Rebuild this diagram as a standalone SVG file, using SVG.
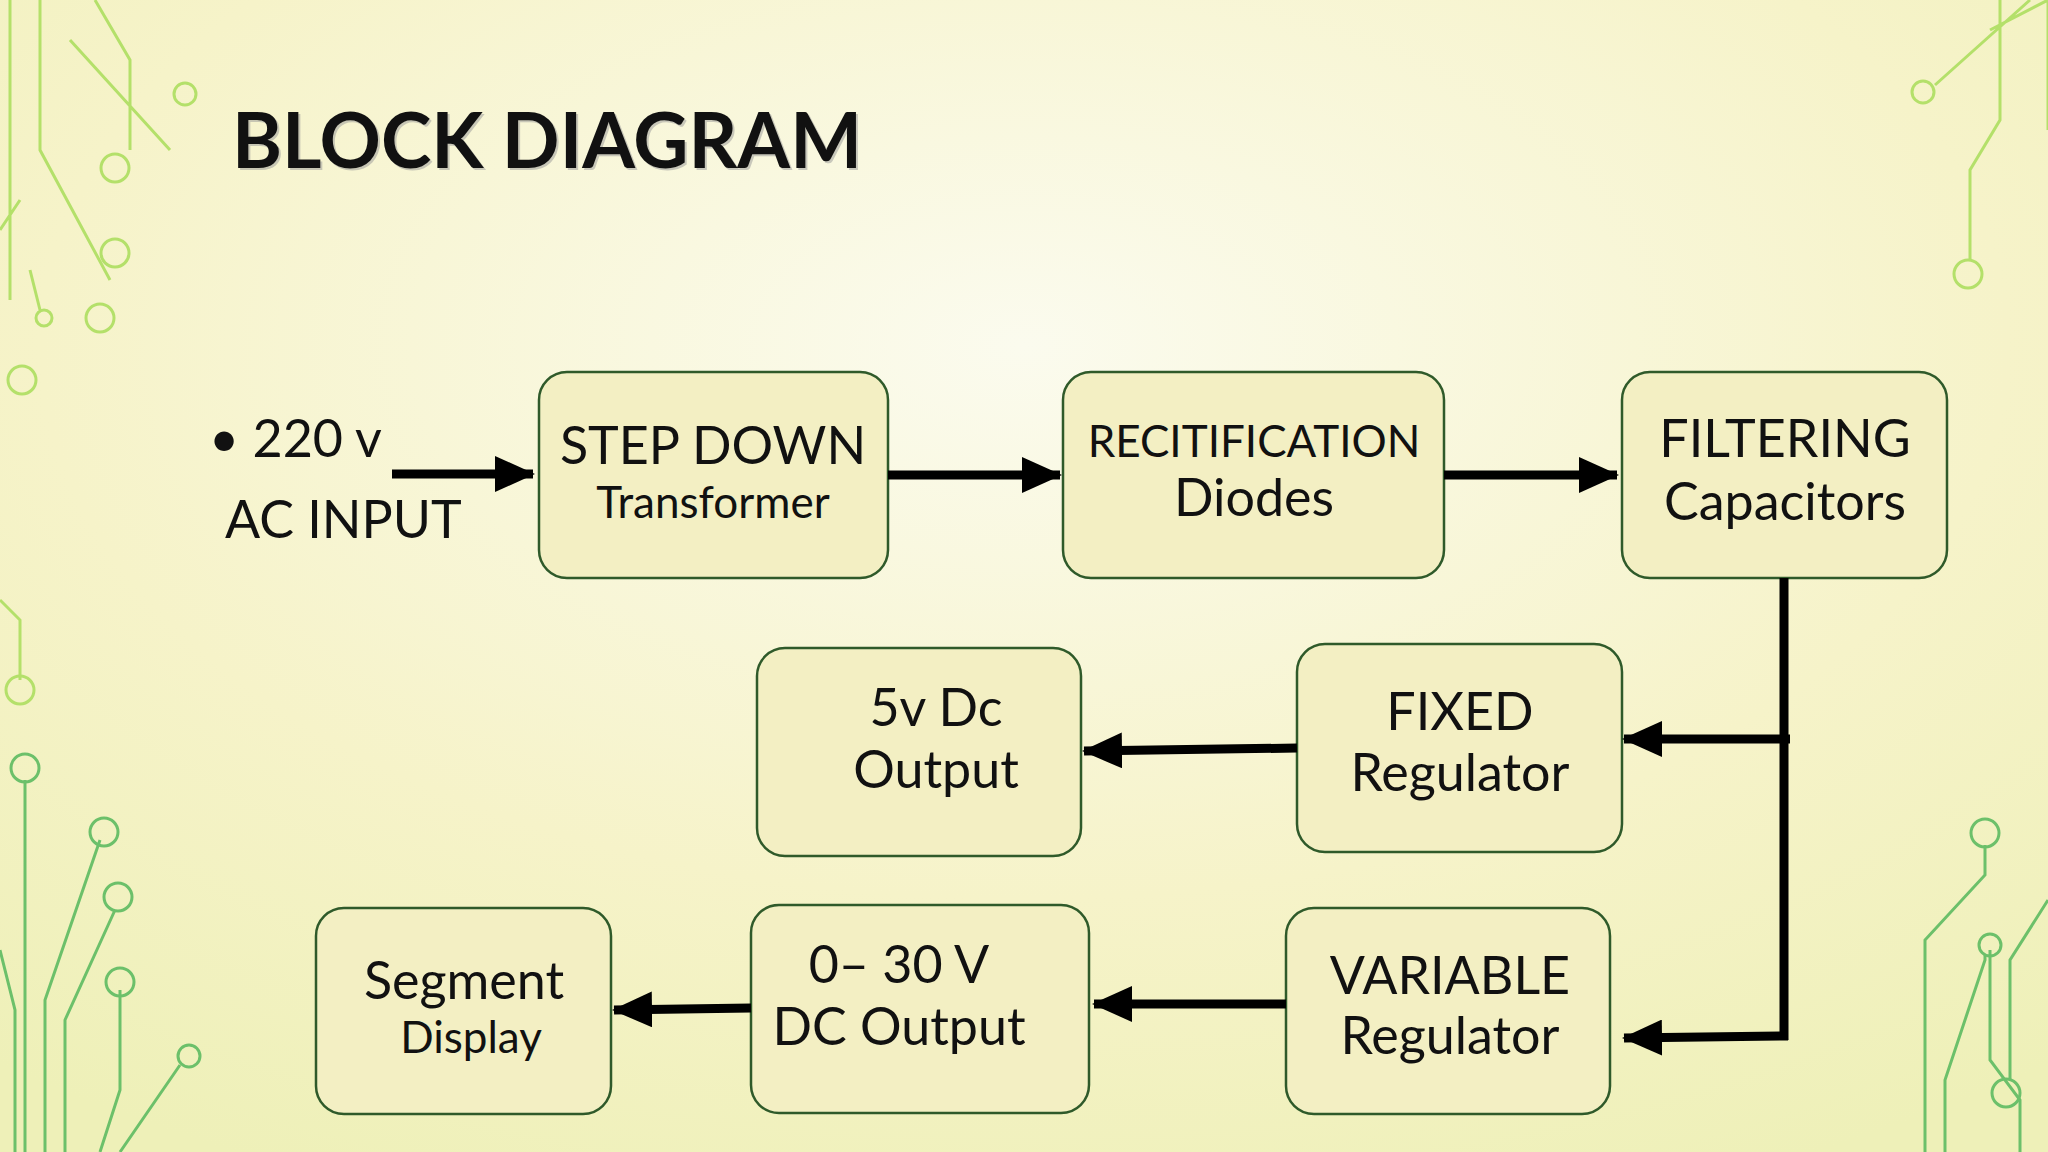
<svg xmlns="http://www.w3.org/2000/svg" width="2048" height="1152" viewBox="0 0 2048 1152">
<defs>
<radialGradient id="bg" cx="0.5" cy="0.3" r="0.8">
<stop offset="0" stop-color="#fbfbee"/><stop offset="0.6" stop-color="#f6f3c9"/><stop offset="1" stop-color="#eef0b8"/>
</radialGradient>
<marker id="ah" markerUnits="userSpaceOnUse" markerWidth="40" markerHeight="36" refX="38" refY="18" orient="auto">
<path d="M0,0 L40,18 L0,36 Z" fill="#000"/>
</marker>
<style>
.box{fill:#f3efc3;stroke:#2f5a2a;stroke-width:2.5}
.t{font-family:Lato,"Open Sans",sans-serif;fill:#111;text-anchor:middle}
.l{font-size:52px}.s{font-size:44px}
.c{stroke:#000;stroke-width:9;fill:none}
.dec{stroke:#b4e06a;stroke-width:3;fill:none}
.dec2{stroke:#6cc06a;stroke-width:3;fill:none}
</style>
</defs>
<rect width="2048" height="1152" fill="url(#bg)"/>
<g id="decor">
<path class="dec" d="M10,0 V300 M40,0 V150 L110,280 M95,0 L130,60 V150 M70,40 L170,150 M20,200 L0,230 M30,270 L40,310 M0,600 L20,620 V680"/>
<circle class="dec" cx="22" cy="380" r="14"/><circle class="dec" cx="115" cy="168" r="14"/><circle class="dec" cx="115" cy="253" r="14"/><circle class="dec" cx="100" cy="318" r="14"/><circle class="dec" cx="185" cy="94" r="11"/><circle class="dec" cx="44" cy="318" r="8"/><circle class="dec" cx="20" cy="690" r="14"/>
<path class="dec2" d="M25,780 V1152 M45,1152 V1000 L100,840 M65,1152 V1020 L115,910 M100,1152 L120,1090 V990 M120,1152 L180,1065 M0,950 L15,1010 V1152"/>
<circle class="dec2" cx="25" cy="768" r="14"/><circle class="dec2" cx="104" cy="832" r="14"/><circle class="dec2" cx="118" cy="897" r="14"/><circle class="dec2" cx="120" cy="982" r="14"/><circle class="dec2" cx="189" cy="1056" r="11"/>
<path class="dec" d="M2048,0 V130 M2000,0 V120 L1970,170 V260 M2030,0 L1935,85 M1990,30 L2048,0"/>
<circle class="dec" cx="1923" cy="92" r="11"/><circle class="dec" cx="1968" cy="274" r="14"/>
<path class="dec2" d="M1925,1152 V940 L1985,875 V845 M1945,1152 V1080 L1985,960 V955 M2020,1152 V1100 L1990,1060 V950 M2048,900 L2010,960 V1080"/>
<circle class="dec2" cx="1985" cy="833" r="14"/><circle class="dec2" cx="1990" cy="945" r="11"/><circle class="dec2" cx="2006" cy="1093" r="14"/>
</g>
<text x="234" y="170" font-family="Lato,'Open Sans',sans-serif" font-weight="bold" font-size="76" fill="#999" opacity="0.5">BLOCK DIAGRAM</text>
<text x="232" y="168" font-family="Lato,'Open Sans',sans-serif" font-weight="bold" font-size="76" fill="#111">BLOCK DIAGRAM</text>
<g id="input"><text class="t l" x="209" y="457" style="text-anchor:start">• 220 v</text><text class="t l" x="225" y="538" style="text-anchor:start">AC INPUT</text></g>
<g id="stepdown"><rect class="box" x="539" y="372" width="349" height="206" rx="28"/><text class="t l" x="713" y="464">STEP DOWN</text><text class="t s" x="713" y="518">Transformer</text></g>
<g id="rect"><rect class="box" x="1063" y="372" width="381" height="206" rx="28"/><text class="t s" x="1254" y="457">RECITIFICATION</text><text class="t l" x="1254" y="516">Diodes</text></g>
<g id="filter"><rect class="box" x="1622" y="372" width="325" height="206" rx="28"/><text class="t l" x="1785" y="457">FILTERING</text><text class="t l" x="1785" y="520">Capacitors</text></g>
<g id="out5"><rect class="box" x="757" y="648" width="324" height="208" rx="28"/><text class="t l" x="936" y="726">5v Dc</text><text class="t l" x="936" y="788">Output</text></g>
<g id="fixed"><rect class="box" x="1297" y="644" width="325" height="208" rx="28"/><text class="t l" x="1460" y="730">FIXED</text><text class="t l" x="1460" y="791">Regulator</text></g>
<g id="segment"><rect class="box" x="316" y="908" width="295" height="206" rx="28"/><text class="t l" x="464" y="999">Segment</text><text class="t s" x="471" y="1053">Display</text></g>
<g id="out30"><rect class="box" x="751" y="905" width="338" height="208" rx="28"/><text class="t l" x="899" y="983">0– 30 V</text><text class="t l" x="899" y="1045">DC Output</text></g>
<g id="variable"><rect class="box" x="1286" y="908" width="324" height="206" rx="28"/><text class="t l" x="1450" y="994">VARIABLE</text><text class="t l" x="1450" y="1054">Regulator</text></g>
<g id="connectors">
<line class="c" x1="392" y1="474" x2="533" y2="474" marker-end="url(#ah)"/>
<line class="c" x1="888" y1="475" x2="1060" y2="475" marker-end="url(#ah)"/>
<line class="c" x1="1444" y1="475" x2="1617" y2="475" marker-end="url(#ah)"/>
<line class="c" x1="1784" y1="578" x2="1784" y2="1040"/>
<line class="c" x1="1790" y1="739" x2="1624" y2="739" marker-end="url(#ah)"/>
<line class="c" x1="1297" y1="748" x2="1084" y2="751" marker-end="url(#ah)"/>
<line class="c" x1="1788" y1="1036" x2="1624" y2="1038" marker-end="url(#ah)"/>
<line class="c" x1="1286" y1="1004" x2="1094" y2="1004" marker-end="url(#ah)"/>
<line class="c" x1="751" y1="1008" x2="614" y2="1010" marker-end="url(#ah)"/>
</g>
</svg>
